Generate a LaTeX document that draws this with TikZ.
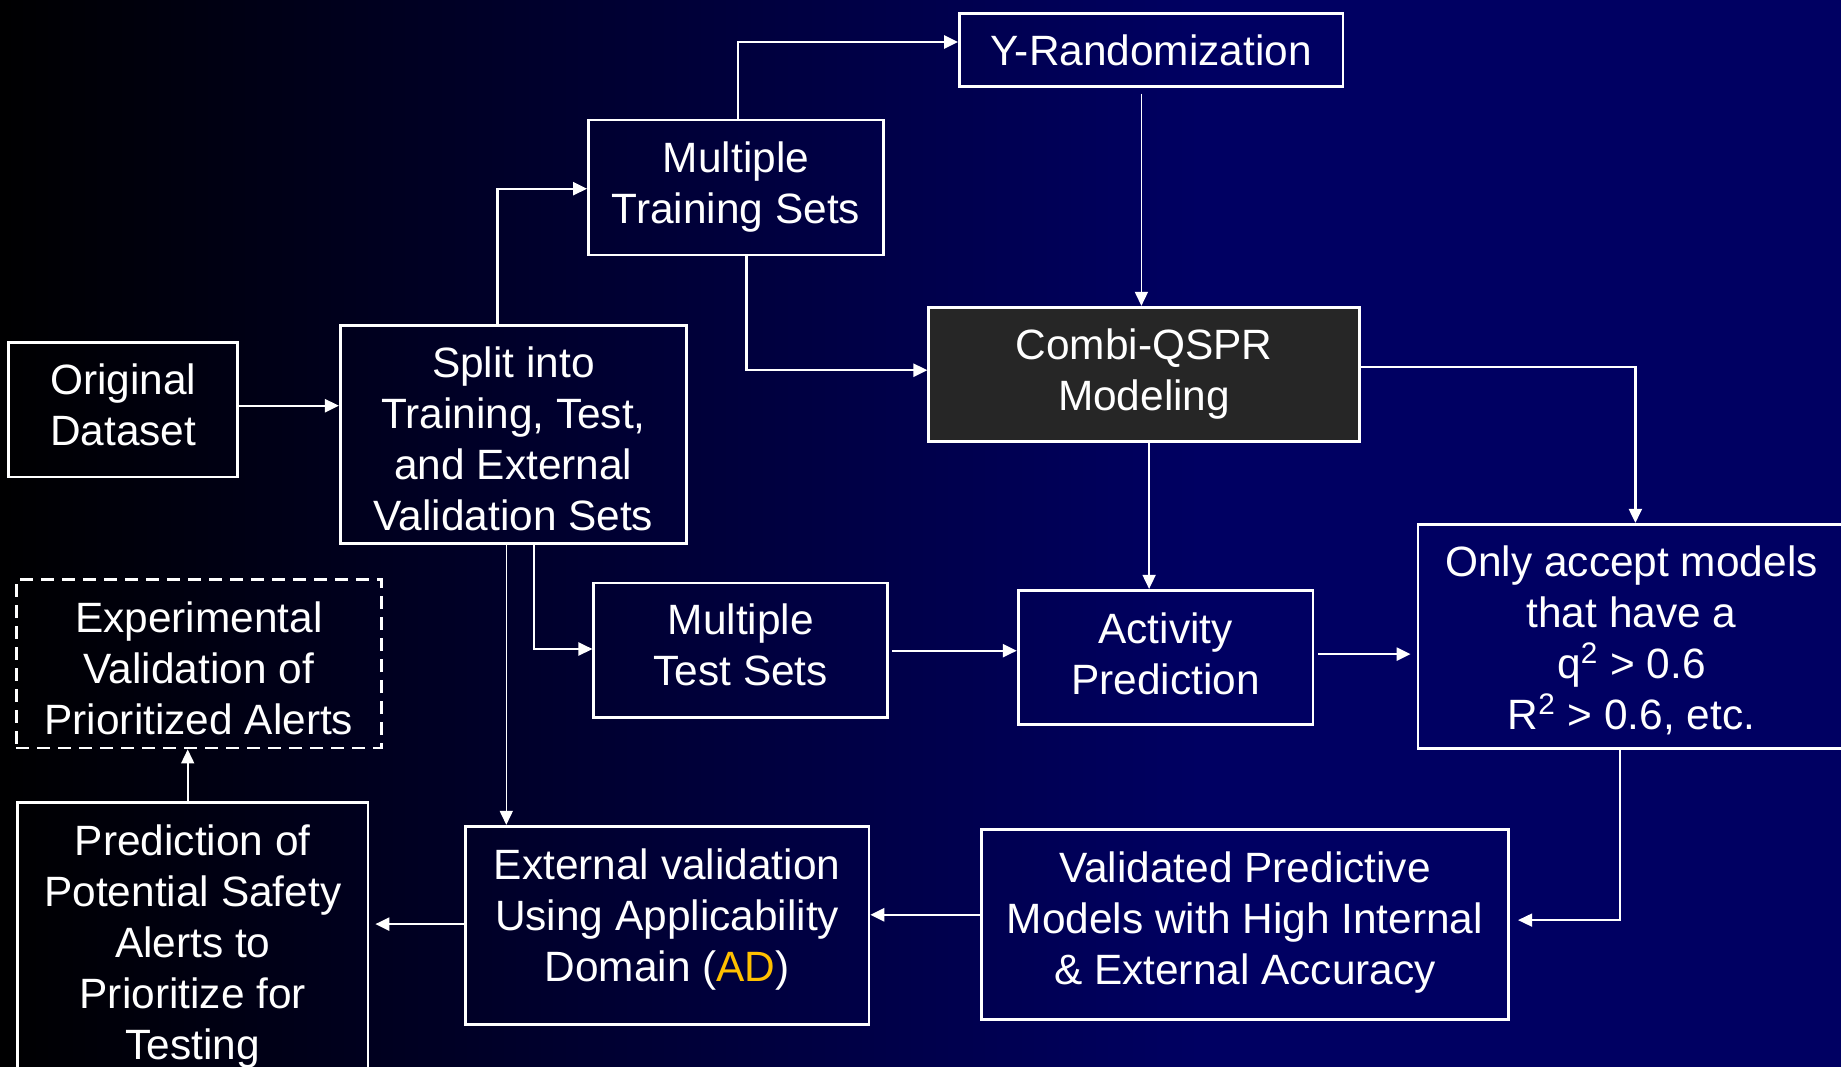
\documentclass[tikz,border=0pt]{standalone}
\usepackage{fontspec}
\setmainfont{Liberation Sans}
\usetikzlibrary{arrows.meta}

\definecolor{bgright}{RGB}{0,0,98}
\definecolor{combifill}{RGB}{38,38,38}
\definecolor{adgold}{RGB}{255,192,0}

\tikzset{
  box/.style={draw=white, line width=1.4pt, inner sep=0pt},
  sz/.style 2 args={minimum width={#1*0.5pt}, minimum height={#2*0.5pt}},
  txt/.style={text=white, align=center, inner sep=0pt,
    font=\fontsize{21.2pt}{25.5pt}\selectfont},
  flow/.style={draw=white, line width=1.2pt, -{Triangle[length=7pt,width=6.5pt]}},
  fine/.style={line width=0.8pt},
}

\begin{document}
\begin{tikzpicture}[x=0.5pt,y=-0.5pt]
  \useasboundingbox (0,0) rectangle (1841,1066);
  \clip (-8,-8) rectangle (1849,1074);
  % background: black on the left fading into navy, flat navy on the right
  \fill[left color=black, right color=bgright] (-8,-8) rectangle (1200,1074);
  \fill[bgright] (1199,-8) rectangle (1849,1074);

  % boxes
  \node[box, sz={228.8}{134.3}] (orig) at (123.2,409.9) {};
  \node[box, sz={346.2}{217.9}] (split) at (513.4,434.5) {};
  \node[box, sz={295.1}{135}] (train) at (736,187.4) {};
  \node[box, sz={383.5}{73.7}] (yrand) at (1151.2,50) {};
  \node[box, sz={430.6}{134.3}, fill=combifill] (combi) at (1144.1,374.4) {};
  \node[box, sz={293.9}{134.2}] (test) at (740.8,650) {};
  \node[box, sz={294.9}{134.2}] (activity) at (1165.6,657.4) {};
  \node[box, sz={427}{224.5}] (only) at (1631.5,636.5) {};
  \node[box, sz={365}{168.4}, dash pattern=on 6.5pt off 4pt] (exper) at (198.9,663.8) {};
  \node[box, sz={350.3}{277.3}] (pred) at (192.8,941.4) {};
  \node[box, sz={403.6}{197.9}] (ext) at (667.1,925.2) {};
  \node[box, sz={527.5}{190.6}] (valid) at (1244.9,924.5) {};

  % box texts
  \node[txt] (origtext) at ([yshift=2.35pt]orig.center) {Original\\Dataset};
  \node[txt] (splittext) at ([yshift=-2.35pt]split.center)
    {Split into\\Training, Test,\\and External\\Validation Sets};
  \node[txt] (traintext) at (train.center) {Multiple\\Training Sets};
  \node[txt] (yrandtext) at (yrand.center) {Y-Randomization};
  \node[txt] (combitext) at (combi.center) {Combi-QSPR\\Modeling};
  \node[txt] (testtext) at ([yshift=2.35pt]test.center) {Multiple\\Test Sets};
  \node[txt] (activitytext) at ([yshift=1.75pt]activity.center) {Activity\\Prediction};
  \node[txt] (onlytext) at ([yshift=-1.75pt]only.center)
    {Only accept models\\that have a\\q\textsuperscript{2} > 0.6\\R\textsuperscript{2} > 0.6, etc.};
  \node[txt] (expertext) at ([yshift=-2.35pt]exper.center)
    {Experimental\\Validation of\\Prioritized Alerts};
  \node[txt] (predtext) at ([yshift=-2.35pt]pred.center)
    {Prediction of\\Potential Safety\\Alerts to\\Prioritize for\\Testing};
  \node[txt] (exttext) at ([yshift=2.95pt]ext.center)
    {External validation\\Using Applicability\\Domain (\textcolor{adgold}{AD})};
  \node[txt] (validtext) at ([yshift=1.15pt]valid.center)
    {Validated Predictive\\Models with High Internal\\\& External Accuracy};

  % connectors
  \draw[flow] (orig.east |- 0,405.7) -- (split.west |- 0,405.7);
  \draw[flow] (split.north -| 497.5,0) |- (train.west |- 0,188.7);
  \draw[flow] (train.north -| 738.1,0) |- (yrand.west |- 0,42);
  \draw[flow] (train.south -| 746.3,0) |- (combi.west |- 0,370.2);
  \draw[flow,fine,shorten <=2.7pt] (yrand.south -| 1141.4,0) -- (combi.north -| 1141.4,0);
  \draw[flow] (combi.east |- 0,366.8) -| (only.north -| 1635.4,0);
  \draw[flow,fine] (combi.south -| 1149.1,0) -- (activity.north -| 1149.1,0);
  \draw[flow,fine] (split.south -| 506.3,0) -- (ext.north -| 506.3,0);
  \draw[flow] (split.south -| 533.9,0) |- (test.west |- 0,649);
  \draw[flow,shorten <=1.5pt] (test.east |- 0,650.7) -- (activity.west |- 0,650.7);
  \draw[flow,shorten <=2pt,shorten >=3pt] (activity.east |- 0,654.1) -- (only.west |- 0,654.1);
  \draw[flow,fine,shorten >=4pt] (only.south -| 1620.2,0) |- (valid.east |- 0,920.1);
  \draw[flow] (valid.west |- 0,914.8) -- (ext.east |- 0,914.8);
  \draw[flow,shorten >=3pt] (ext.west |- 0,924.1) -- (pred.east |- 0,924.1);
  \draw[flow,fine] (pred.north -| 187.7,0) -- (exper.south -| 187.7,0);
\end{tikzpicture}
\end{document}
